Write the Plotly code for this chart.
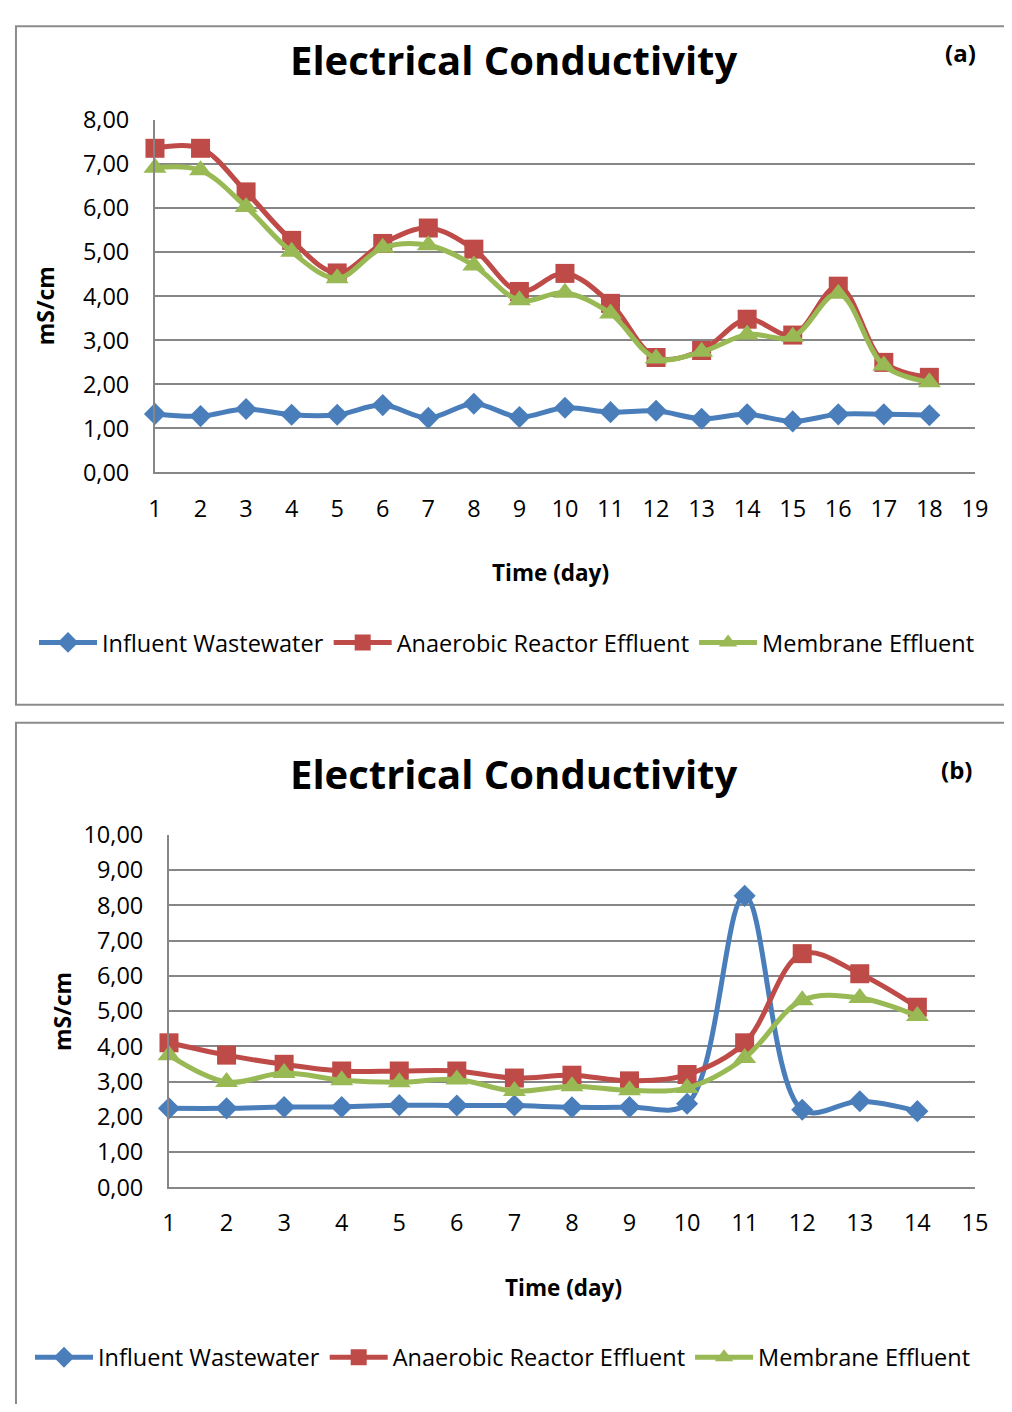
import plotly.graph_objects as go

W, H = 996, 1396

# ---------------- data ----------------
days_a = list(range(1, 19))
influent_a = [1.33, 1.28, 1.44, 1.31, 1.31, 1.53, 1.24, 1.56, 1.26, 1.47, 1.37, 1.40, 1.22, 1.32, 1.16, 1.32, 1.32, 1.30]
anaerobic_a = [7.36, 7.36, 6.37, 5.27, 4.53, 5.20, 5.55, 5.07, 4.11, 4.52, 3.84, 2.61, 2.77, 3.48, 3.12, 4.23, 2.50, 2.16]
membrane_a = [6.92, 6.86, 6.03, 5.01, 4.41, 5.10, 5.16, 4.70, 3.91, 4.08, 3.61, 2.59, 2.74, 3.13, 3.08, 4.06, 2.43, 2.05]

days_b = list(range(1, 15))
influent_b = [2.24, 2.24, 2.28, 2.28, 2.33, 2.32, 2.32, 2.27, 2.28, 2.37, 8.27, 2.20, 2.44, 2.16]
anaerobic_b = [4.10, 3.75, 3.49, 3.30, 3.30, 3.30, 3.10, 3.18, 3.02, 3.20, 4.10, 6.63, 6.06, 5.11]
membrane_b = [3.75, 2.99, 3.24, 3.04, 2.98, 3.06, 2.73, 2.87, 2.75, 2.82, 3.67, 5.31, 5.37, 4.86]

series_names = ["Influent Wastewater", "Anaerobic Reactor Effluent", "Membrane Effluent"]
colors = ["#4A7EBB", "#BE4B48", "#98B954"]
symbols = ["diamond", "square", "triangle-up"]
marker_sizes = [17, 19, 20]

FONT = "Open Sans, Carlito, Calibri, sans-serif"

# layout positions are given in picture pixels and mapped to paper fractions
SX, OX = 0.98, 15.0
SY, OY = 0.976, 25.0


def px(x):
    return ((x - OX) / SX) / W


def py(y):
    return 1 - ((y - OY) / SY) / H


fig = go.Figure()

charts = [
    dict(days=days_a, vals=[influent_a, anaerobic_a, membrane_a], xa="x", ya="y", legend="legend",
         plot=(155, 975, 120, 472), xr=[1, 19], yr=[0, 8]),
    dict(days=days_b, vals=[influent_b, anaerobic_b, membrane_b], xa="x2", ya="y2", legend="legend2",
         plot=(169, 975, 834, 1186), xr=[1, 15], yr=[0, 10]),
]

for c in charts:
    for name, vals, col, sym, ms in zip(series_names, c["vals"], colors, symbols, marker_sizes):
        fig.add_trace(go.Scatter(
            x=c["days"], y=vals, name=name, mode="lines+markers",
            xaxis=c["xa"], yaxis=c["ya"], legend=c["legend"],
            line=dict(color=col, width=5, shape="spline", smoothing=1.0),
            marker=dict(symbol=sym, size=ms, color=col),
            cliponaxis=False,
        ))

axis_common = dict(
    showline=True, linecolor="#868686", linewidth=2,
    tickfont=dict(family=FONT, size=23.5, color="#000000"),
    ticks="", zeroline=False,
)

for i, c in enumerate(charts):
    x0, x1, y0, y1 = c["plot"]
    sfx = "" if i == 0 else str(i + 1)
    fig.update_layout(**{
        "xaxis" + sfx: dict(domain=[px(x0), px(x1)], range=c["xr"], anchor="y" + sfx,
                            tickmode="linear", tick0=1, dtick=1, showgrid=False,
                            ticklabelstandoff=14, **axis_common),
        "yaxis" + sfx: dict(domain=[py(y1), py(y0)], range=c["yr"], anchor="x" + sfx,
                            tickmode="linear", tick0=0, dtick=1, tickformat=".2f",
                            showgrid=True, gridcolor="#868686", gridwidth=2,
                            ticklabelstandoff=19, **axis_common),
    })

annotations = []
for (tx, ty, lx, ly, xtx, xty, ytx, yty, lab) in [
    (514, 59, 961, 52, 551, 572, 45, 305, "(a)"),
    (514, 773, 957, 769, 564, 1286, 62, 1010, "(b)"),
]:
    annotations.append(dict(x=px(tx), y=py(ty), xref="paper", yref="paper", text="<b>Electrical Conductivity</b>",
                            showarrow=False, xanchor="center", yanchor="middle",
                            font=dict(family=FONT, size=40, color="#000000")))
    annotations.append(dict(x=px(lx), y=py(ly), xref="paper", yref="paper", text="<b>" + lab + "</b>",
                            showarrow=False, xanchor="center", yanchor="middle",
                            font=dict(family=FONT, size=24, color="#000000")))
    annotations.append(dict(x=px(xtx), y=py(xty), xref="paper", yref="paper", text="<b>Time (day)</b>",
                            showarrow=False, xanchor="center", yanchor="middle",
                            font=dict(family=FONT, size=22.5, color="#000000")))
    annotations.append(dict(x=px(ytx), y=py(yty), xref="paper", yref="paper", text="<b>mS/cm</b>",
                            showarrow=False, xanchor="center", yanchor="middle", textangle=-90,
                            font=dict(family=FONT, size=23, color="#000000")))

shapes = [
    dict(type="rect", xref="paper", yref="paper", x0=0.001, x1=1.05, y0=py(704), y1=0.999,
         line=dict(color="#8C8C8C", width=2), fillcolor="rgba(0,0,0,0)"),
    dict(type="rect", xref="paper", yref="paper", x0=0.001, x1=1.05, y0=-0.05, y1=py(722),
         line=dict(color="#8C8C8C", width=2), fillcolor="rgba(0,0,0,0)"),
]

legend_common = dict(orientation="h", xanchor="left", yanchor="middle", itemwidth=58,
                     font=dict(family=FONT, size=23.5, color="#000000"),
                     bgcolor="rgba(0,0,0,0)", tracegroupgap=0, itemclick=False)

fig.update_layout(
    width=W, height=H,
    margin=dict(l=0, r=0, t=0, b=0),
    paper_bgcolor="white", plot_bgcolor="white",
    separators=",.",
    showlegend=True,
    legend=dict(x=px(34), y=py(642), **legend_common),
    legend2=dict(x=px(30), y=py(1356), **legend_common),
    annotations=annotations,
    shapes=shapes,
)

fig.write_html("out.html")
